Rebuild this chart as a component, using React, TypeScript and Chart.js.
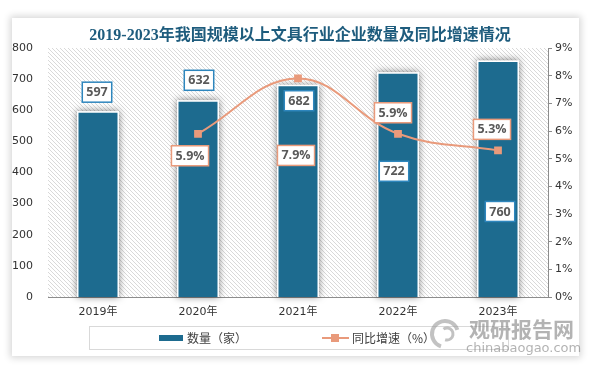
import React, { useEffect, useRef } from "react";
import { Chart, registerables } from "chart.js";

Chart.register(...registerables);

const titleText = "2019-2023年我国规模以上文具行业企业数量及同比增速情况";
const categories = ["2019年", "2020年", "2021年", "2022年", "2023年"];
const counts = [597, 632, 682, 722, 760];
const growth = [null, 5.9, 7.9, 5.9, 5.3];
const countLabelText = ["597", "632", "682", "722", "760"];
const growthLabelText = ["", "5.9%", "7.9%", "5.9%", "5.3%"];
const leftAxis = { min: 0, max: 800, step: 100 };
const rightAxis = { min: 0, max: 9, step: 1 };
const legendCount = "数量（家）";
const legendGrowth = "同比增速（%）";
const watermarkCn = "观研报告网";
const watermarkEn = "chinabaogao.com";

// label placement offsets (pixels, relative to the mark)
const countLabelDx = [-1, 1, 1, -4, 2];
const countLabelDy = [-19, -20, 16, 99, 151];
const growthLabelDx = [0, -8, -2, -5, -6];
const growthLabelDy = [0, 22, 77, -21, -21];

const BAR = "#1d6b8f";
const LINE = "#e99a7b";
const LABEL_BLUE = "#2e86bd";
const TEXT = "#333333";
const AXIS = "#8c8c8c";

const tickFont = { family: '"DejaVu Sans", "Noto Sans CJK SC", sans-serif', size: 11 };

function makeHatch(ctx: CanvasRenderingContext2D) {
  const c = document.createElement("canvas");
  c.width = 4;
  c.height = 4;
  const p = c.getContext("2d")!;
  p.fillStyle = "#ffffff";
  p.fillRect(0, 0, 4, 4);
  p.strokeStyle = "#d9d9d9";
  p.lineWidth = 1;
  p.beginPath();
  p.moveTo(-1, -1);
  p.lineTo(5, 5);
  p.moveTo(-1, 3);
  p.lineTo(1, 5);
  p.moveTo(3, -1);
  p.lineTo(5, 1);
  p.stroke();
  return ctx.createPattern(c, "repeat");
}

function drawBox(
  ctx: CanvasRenderingContext2D,
  text: string,
  cx: number,
  cy: number,
  border: string,
  padX: number
) {
  ctx.font = 'bold 12.5px "Open Sans", "DejaVu Sans", sans-serif';
  const w = ctx.measureText(text).width + padX * 2;
  const h = 20;
  ctx.fillStyle = "#ffffff";
  ctx.fillRect(cx - w / 2, cy - h / 2, w, h);
  ctx.strokeStyle = border;
  ctx.lineWidth = 1.5;
  ctx.strokeRect(cx - w / 2, cy - h / 2, w, h);
  ctx.fillStyle = "#595959";
  ctx.textAlign = "center";
  ctx.textBaseline = "middle";
  ctx.fillText(text, cx, cy + 0.5);
}

const customPlugin = {
  id: "customDecor",
  beforeDraw(chart: any) {
    const { ctx, chartArea } = chart;
    ctx.save();
    ctx.fillStyle = makeHatch(ctx) || "#eee";
    ctx.fillRect(chartArea.left, chartArea.top, chartArea.right - chartArea.left, chartArea.bottom - chartArea.top);
    ctx.restore();
  },
  beforeDatasetsDraw(chart: any) {
    const { ctx } = chart;
    const meta = chart.getDatasetMeta(1);
    meta.data.forEach((bar: any) => {
      const { x, y, base, width } = bar.getProps(["x", "y", "base", "width"], true);
      ctx.save();
      ctx.shadowColor = "rgba(0,0,0,0.5)";
      ctx.shadowBlur = 7;
      ctx.fillStyle = "#ffffff";
      ctx.fillRect(x - width / 2, y, width, base - y);
      ctx.restore();
    });
  },
  afterDatasetsDraw(chart: any) {
    const { ctx } = chart;
    ctx.save();
    const barMeta = chart.getDatasetMeta(1);
    barMeta.data.forEach((bar: any, i: number) => {
      const { x, y } = bar.getProps(["x", "y"], true);
      drawBox(ctx, countLabelText[i], x + countLabelDx[i], y + countLabelDy[i], LABEL_BLUE, 4);
    });
    const lineMeta = chart.getDatasetMeta(0);
    lineMeta.data.forEach((pt: any, i: number) => {
      if (growth[i] == null) return;
      const { x, y } = pt.getProps(["x", "y"], true);
      drawBox(ctx, growthLabelText[i], x + growthLabelDx[i], y + growthLabelDy[i], LINE, 4);
    });
    ctx.restore();
  },
  afterDraw(chart: any) {
    const { ctx } = chart;
    ctx.save();
    // title
    ctx.font = 'bold 16px "Liberation Serif", "Noto Sans CJK SC", serif';
    ctx.fillStyle = "#1e5c7d";
    ctx.textAlign = "center";
    ctx.textBaseline = "middle";
    ctx.fillText(titleText, 300, 36);

    // legend
    ctx.strokeStyle = "#d9d9d9";
    ctx.lineWidth = 1;
    ctx.strokeRect(89.5, 326.5, 419, 23);
    ctx.fillStyle = BAR;
    ctx.fillRect(159, 335, 24, 6);
    ctx.font = '12px "Noto Sans CJK SC", sans-serif';
    ctx.fillStyle = "#404040";
    ctx.textAlign = "left";
    ctx.fillText(legendCount, 187, 338.5);
    ctx.strokeStyle = LINE;
    ctx.lineWidth = 2;
    ctx.beginPath();
    ctx.moveTo(322, 338);
    ctx.lineTo(349, 338);
    ctx.stroke();
    ctx.fillStyle = LINE;
    ctx.fillRect(331, 334, 8, 8);
    ctx.fillStyle = "#404040";
    ctx.fillText(legendGrowth, 352, 338.5);

    // watermark
    ctx.globalAlpha = 0.6;
    ctx.strokeStyle = "#9a9a9a";
    ctx.lineWidth = 4;
    ctx.beginPath();
    ctx.arc(445, 334, 13, Math.PI * 0.6, Math.PI * 1.9);
    ctx.stroke();
    ctx.lineWidth = 3;
    ctx.beginPath();
    ctx.arc(447, 334, 6, Math.PI * 1.3, Math.PI * 2.6);
    ctx.stroke();
    ctx.fillStyle = "#808080";
    ctx.font = 'bold 21px "Noto Sans CJK SC", sans-serif';
    ctx.textAlign = "left";
    ctx.fillText(watermarkCn, 469, 329);
    ctx.font = '13px "DejaVu Sans", sans-serif';
    ctx.fillText(watermarkEn, 466, 349);
    ctx.restore();
  },
};

export default function App() {
  const ref = useRef<HTMLCanvasElement | null>(null);
  useEffect(() => {
    if (!ref.current) return;
    const chart = new Chart(ref.current, {
      type: "bar",
      data: {
        labels: categories,
        datasets: [
          {
            type: "line",
            label: legendGrowth,
            data: growth as any,
            yAxisID: "y1",
            borderColor: LINE,
            backgroundColor: LINE,
            borderWidth: 2,
            tension: 0.4,
            pointStyle: "rect",
            pointRadius: 5.5,
            pointBorderWidth: 0,
            pointBackgroundColor: LINE,
            order: 0,
          } as any,
          {
            type: "bar",
            label: legendCount,
            data: counts,
            yAxisID: "y",
            backgroundColor: BAR,
            borderColor: "#ffffff",
            borderWidth: 1.5,
            barPercentage: 0.42,
            categoryPercentage: 1,
            order: 1,
          } as any,
        ],
      },
      options: {
        responsive: false,
        animation: false,
        devicePixelRatio: 1,
        layout: { padding: { top: 48, left: 0, right: 0, bottom: 0 } },
        plugins: { legend: { display: false }, tooltip: { enabled: false }, title: { display: false } },
        scales: {
          x: {
            grid: { display: false, drawTicks: false },
            border: { display: true, color: AXIS, width: 1 },
            ticks: { font: tickFont, color: TEXT, padding: 9, maxRotation: 0 },
            afterFit: (s: any) => {
              s.height = 73;
            },
          },
          y: {
            position: "left",
            min: leftAxis.min,
            max: leftAxis.max,
            ticks: { stepSize: leftAxis.step, padding: 15, font: tickFont, color: TEXT },
            grid: { display: false, drawTicks: false },
            border: { display: false },
            afterFit: (s: any) => {
              s.width = 48;
            },
          },
          y1: {
            position: "right",
            min: rightAxis.min,
            max: rightAxis.max,
            ticks: {
              stepSize: rightAxis.step,
              padding: 3,
              font: tickFont,
              color: TEXT,
              callback: (v: any) => v + "%",
            },
            grid: { drawOnChartArea: false, tickLength: 4, color: AXIS },
            border: { display: true, color: AXIS },
            afterFit: (s: any) => {
              s.width = 44;
            },
          },
        },
      } as any,
      plugins: [customPlugin],
    });
    return () => chart.destroy();
  }, []);

  return (
    <div style={{ position: "fixed", left: 0, top: 0, width: 592, height: 370, background: "#ffffff", overflow: "hidden" }}>
      <div
        style={{
          position: "absolute",
          left: 12,
          top: 18,
          width: 567,
          height: 338,
          background: "#ffffff",
          boxShadow: "0 0 7px 2px rgba(0,0,0,0.16)",
        }}
      />
      <canvas ref={ref} width={592} height={370} style={{ position: "absolute", left: 0, top: 0, width: 592, height: 370 }} />
    </div>
  );
}
